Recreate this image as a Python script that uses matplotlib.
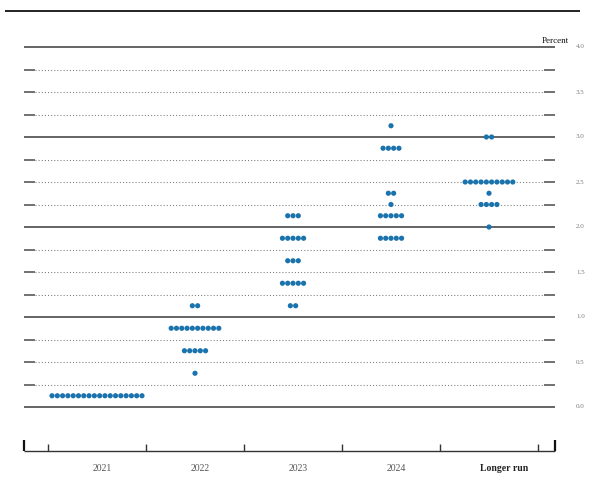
import matplotlib
matplotlib.use("Agg")
import matplotlib.pyplot as plt
import numpy as np

plt.rcParams['font.family'] = ['Liberation Serif', 'DejaVu Serif']

# ---- data ----
columns = ["2021", "2022", "2023", "2024", "Longer run"]
# (rate level, number of participants) per column
dots_2021 = [(0.125, 18)]
dots_2022 = [(0.375, 1), (0.625, 5), (0.875, 10), (1.125, 2)]
dots_2023 = [(1.125, 2), (1.375, 5), (1.625, 3), (1.875, 5), (2.125, 3)]
dots_2024 = [(1.875, 5), (2.125, 5), (2.25, 1), (2.375, 2), (2.875, 4), (3.125, 1)]
dots_longer = [(2.0, 1), (2.25, 4), (2.375, 1), (2.5, 10), (3.0, 2)]
all_dots = [dots_2021, dots_2022, dots_2023, dots_2024, dots_longer]
tick_labels = ["0.0", "0.5", "1.0", "1.5", "2.0", "2.5", "3.0", "3.5", "4.0"]
tick_values = [0.0, 0.5, 1.0, 1.5, 2.0, 2.5, 3.0, 3.5, 4.0]
grid_levels = np.arange(0, 4.01, 0.25)

DOT_COLOR = "#1a73ad"

fig = plt.figure(figsize=(6.07, 4.92), dpi=100)
ax = fig.add_axes([0, 0, 1, 1])
ax.set_axis_off()
# pixel mapping: column i centre at 97 + 98*i px, y=0 at 407px, 90 px per percent
ax.set_xlim(-97 / 98, 510 / 98)
ax.set_ylim(-85 / 90, 407 / 90)

x_left, x_right = -0.745, 4.673
dash_len = 0.115

# horizontal reference lines
for lv in grid_levels:
    if abs(lv - round(lv)) < 1e-9:
        ax.plot([x_left, x_right], [lv, lv], color="#3a3a3a", lw=1.1,
                solid_capstyle="butt", zorder=1)
    else:
        ax.plot([x_left + dash_len, x_right - dash_len], [lv, lv], color="#7a7a7a",
                lw=0.75, linestyle=(0, (1, 2.0)), zorder=1)
        ax.plot([x_left, x_left + dash_len], [lv, lv], color="#4a4a4a", lw=1.1,
                solid_capstyle="butt", zorder=1)
        ax.plot([x_right - dash_len, x_right], [lv, lv], color="#4a4a4a", lw=1.1,
                solid_capstyle="butt", zorder=1)

# tick labels on right
for v, lab in zip(tick_values, tick_labels):
    ax.text(4.888, v, lab, fontsize=5, color="#7a7a7a", ha="left", va="center")
ax.text(4.816, 4.067, "Percent", fontsize=6.5, color="#111111", ha="right",
        va="center")

# dots
spacing = 0.054
for ci, groups in enumerate(all_dots):
    for level, n in groups:
        xs = ci + (np.arange(n) - (n - 1) / 2) * spacing
        ax.scatter(xs, np.full(n, level), s=14, color=DOT_COLOR, edgecolors="none",
                   zorder=3)

# top rule
ax.plot([-0.939, 4.929], [4.4, 4.4], color="#111111", lw=1.3, solid_capstyle="butt")

# bottom axis
y_ax = -0.489
ax.plot([x_left, x_right], [y_ax, y_ax], color="#333333", lw=1.0,
        solid_capstyle="butt")
for b in np.arange(len(columns) + 1) - 0.5:
    ax.plot([b, b], [y_ax, y_ax + 0.078], color="#333333", lw=1.0,
            solid_capstyle="butt")
for e in (x_left, x_right):
    ax.plot([e, e], [y_ax, y_ax + 0.122], color="#111111", lw=1.6,
            solid_capstyle="butt")

for ci, name in enumerate(columns):
    if name == "Longer run":
        ax.text(ci + 0.15, -0.678, name, fontsize=7, fontweight="bold",
                color="#222222", ha="center", va="center")
    else:
        ax.text(ci + 0.05, -0.678, name, fontsize=7, color="#555555",
                ha="center", va="center")

fig.savefig("out.png", dpi=100)
